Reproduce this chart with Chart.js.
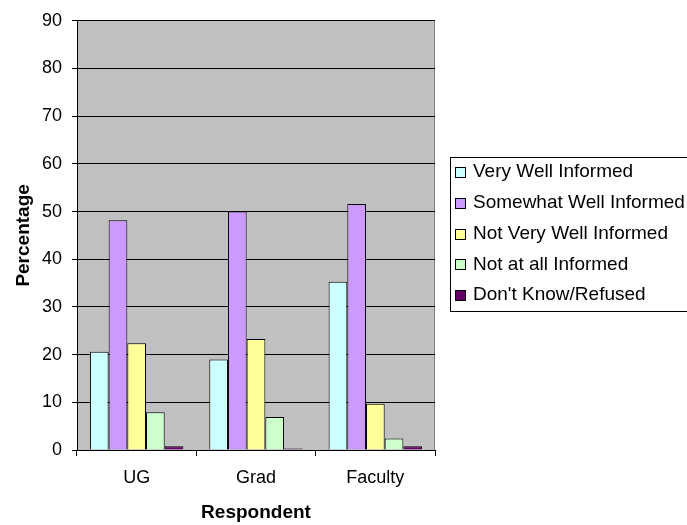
<!DOCTYPE html>
<html>
<head>
<meta charset="utf-8">
<script src="https://cdn.jsdelivr.net/npm/chart.js@4/dist/chart.umd.min.js"></script>
<style>
  html, body { margin: 0; padding: 0; background: #ffffff; }
  #wrap { width: 687px; height: 525px; position: relative; }
</style>
</head>
<body>
<div id="wrap"><canvas id="c" width="687" height="525"></canvas></div>
<script>
const categories = ["UG", "Grad", "Faculty"];
const seriesNames = ["Very Well Informed", "Somewhat Well Informed", "Not Very Well Informed", "Not at all Informed", "Don't Know/Refused"];
const veryWell = [20.6, 19.0, 35.3];
const somewhatWell = [48.2, 50.0, 51.6];
const notVeryWell = [22.4, 23.3, 9.7];
const notAtAll = [7.9, 6.9, 2.4];
const dontKnow = [0.8, 0.3, 0.8];
const yTicks = [0, 10, 20, 30, 40, 50, 60, 70, 80, 90];
const seriesColors = ["#CCFFFF", "#CC99FF", "#FFFF99", "#CCFFCC", "#660066"];

const FONT = "'Liberation Sans', Arial, sans-serif";
const seriesValues = [veryWell, somewhatWell, notVeryWell, notAtAll, dontKnow];

const plotBg = {
  id: 'plotBg',
  beforeDraw(chart) {
    const {ctx, chartArea: a} = chart;
    ctx.save();
    ctx.fillStyle = '#C0C0C0';
    ctx.fillRect(a.left, a.top, a.right - a.left, a.bottom - a.top);
    ctx.strokeStyle = '#808080';
    ctx.lineWidth = 1;
    ctx.beginPath();
    ctx.moveTo(Math.round(a.right) - 0.5, a.top);
    ctx.lineTo(Math.round(a.right) - 0.5, a.bottom);
    ctx.stroke();
    ctx.restore();
  }
};

const boxLegend = {
  id: 'boxLegend',
  afterDraw(chart) {
    const {ctx} = chart;
    ctx.save();
    ctx.strokeStyle = '#000000';
    ctx.lineWidth = 1;
    ctx.strokeRect(450.5, 157.5, 300, 154);
    ctx.font = "19px " + FONT;
    ctx.textBaseline = 'middle';
    ctx.textAlign = 'left';
    chart.data.datasets.forEach((ds, i) => {
      const cy = 172 + i * 30.8;
      ctx.fillStyle = ds.backgroundColor;
      ctx.fillRect(455.5, Math.round(cy - 5) + 0.5, 10, 10);
      ctx.strokeStyle = '#000000';
      ctx.strokeRect(455.5, Math.round(cy - 5) + 0.5, 10, 10);
      ctx.fillStyle = '#000000';
      ctx.fillText(ds.label, 473, cy);
    });
    ctx.restore();
  }
};

new Chart(document.getElementById('c'), {
  type: 'bar',
  data: {
    labels: categories,
    datasets: seriesNames.map((name, i) => ({
      label: name,
      data: seriesValues[i],
      backgroundColor: seriesColors[i],
      borderColor: '#000000',
      borderWidth: 1,
      categoryPercentage: 0.783,
      barPercentage: 1.0
    }))
  },
  options: {
    responsive: false,
    animation: false,
    layout: { padding: { left: 0, right: 252, top: 18, bottom: 0 } },
    plugins: {
      legend: { display: false },
      tooltip: { enabled: false }
    },
    scales: {
      x: {
        offset: true,
        grid: { display: true, drawOnChartArea: false, drawTicks: true, tickLength: 6, color: '#000000', offset: true },
        border: { display: true, color: '#000000' },
        ticks: { color: '#000000', font: { family: FONT, size: 18 }, padding: 11 },
        title: { display: true, text: 'Respondent', color: '#000000', font: { family: FONT, size: 19, weight: 'bold' }, padding: { top: 0, bottom: 1 } },
        afterFit(s) { s.height = 75; }
      },
      y: {
        min: 0,
        max: 90,
        afterBuildTicks(s) { s.ticks = yTicks.map(v => ({ value: v })); },
        grid: { color: '#000000', tickLength: 5, drawTicks: true },
        border: { display: true, color: '#000000' },
        ticks: { color: '#000000', font: { family: FONT, size: 18 }, padding: 10 },
        title: { display: true, text: 'Percentage', color: '#000000', font: { family: FONT, size: 19, weight: 'bold' }, padding: { top: 12, bottom: 0 } },
        afterFit(s) { s.width = 77; }
      }
    }
  },
  plugins: [plotBg, boxLegend]
});
</script>
</body>
</html>
